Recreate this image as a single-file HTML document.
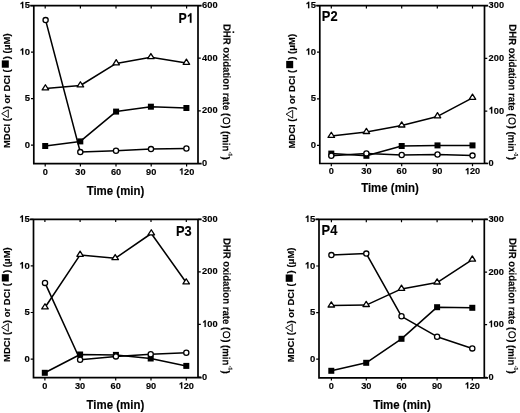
<!DOCTYPE html>
<html><head><meta charset="utf-8"><style>
html,body{margin:0;padding:0;background:#fff;}
body{width:520px;height:413px;overflow:hidden;position:relative;}
svg{position:absolute;left:0;top:0;filter:grayscale(1) blur(0.35px);}
.ax{fill:none;stroke:#000;stroke-width:1.7;stroke-linecap:square;}
.tk{fill:none;stroke:#000;stroke-width:1.2;}
.dl{fill:none;stroke:#000;stroke-width:1.55;stroke-linejoin:round;}
.mk{fill:#fff;stroke:#000;stroke-width:1.3;}
.tr{stroke-linejoin:round;}
.g1{stroke:#000;stroke-width:0.15;vector-effect:non-scaling-stroke;}
.lt{fill:none;stroke:#000;stroke-width:0.9;}
.lc{fill:none;stroke:#000;stroke-width:1.0;}
text{font-family:"Liberation Sans",sans-serif;fill:#000;stroke:#000;stroke-width:0.15;}
.yl{font-size:9.5px;font-weight:bold;}
.yr{font-size:9.8px;font-weight:bold;}
.xl{font-size:9.2px;font-weight:bold;}
.pl{font-size:14px;font-weight:bold;}
.pl2{font-size:14px;font-weight:bold;}
.tl{font-size:12.2px;font-weight:bold;text-anchor:middle;}
.al text{font-size:9.5px;font-weight:bold;}
.ar text{font-size:9.6px;font-weight:bold;}
.ar text.sup{font-size:4.8px;font-weight:bold;}
</style></head><body>
<svg width="520" height="413" viewBox="0 0 520 413">
<path d="M31 5.7H200.8M33.8 5.7V163.7H198V5.7M198 163.7H200.8" class="ax"/>
<path d="M45.2 163.7v2.8M45.2 5.7v2.8M80.4 163.7v2.8M80.4 5.7v2.8M116 163.7v2.8M116 5.7v2.8M151.2 163.7v2.8M151.2 5.7v2.8M186.6 163.7v2.8M186.6 5.7v2.8M33.8 5.7h-2.8M33.8 52.2h-2.8M33.8 98.7h-2.8M33.8 145.2h-2.8M198 5.7h2.8M198 58.2h2.8M198 110.8h2.8M198 163.5h2.8" class="tk"/>
<path d="M45.4 88.5 L80.4 85.5 L116.2 63.4 L150.9 57.3 L186.4 62.9" class="dl"/>
<path d="M45.2 146 L80.3 141.4 L116.1 111.6 L150.9 106.7 L186.4 108" class="dl"/>
<path d="M45.6 20.1 L80.3 152.1 L116 150.7 L151 149.1 L186.4 148.5" class="dl"/>
<path d="M45.4 84.75L48.65 89.9H42.15Z" class="mk tr"/>
<path d="M80.4 81.75L83.65 86.9H77.15Z" class="mk tr"/>
<path d="M116.2 59.65L119.45 64.8H112.95Z" class="mk tr"/>
<path d="M150.9 53.55L154.15 58.7H147.65Z" class="mk tr"/>
<path d="M186.4 59.15L189.65 64.3H183.15Z" class="mk tr"/>
<rect x="42.2" y="143" width="6" height="6"/>
<rect x="77.3" y="138.4" width="6" height="6"/>
<rect x="113.1" y="108.6" width="6" height="6"/>
<rect x="147.9" y="103.7" width="6" height="6"/>
<rect x="183.4" y="105" width="6" height="6"/>
<circle cx="45.6" cy="20.1" r="2.6" class="mk"/>
<circle cx="80.3" cy="152.1" r="2.6" class="mk"/>
<circle cx="116" cy="150.7" r="2.6" class="mk"/>
<circle cx="151" cy="149.1" r="2.6" class="mk"/>
<circle cx="186.4" cy="148.5" r="2.6" class="mk"/>
<text x="19.53" y="8.3" class="yl"> 5</text><path class="g1" transform="translate(19.53 8.3) scale(0.00464 -0.00464)" d="M811 0H537V1032C475 974 387 915 208 856V1100C300 1135 420 1200 500 1300C530 1345 555 1380 570 1409H811Z"/>
<text x="19.53" y="54.8" class="yl"> 0</text><path class="g1" transform="translate(19.53 54.8) scale(0.00464 -0.00464)" d="M811 0H537V1032C475 974 387 915 208 856V1100C300 1135 420 1200 500 1300C530 1345 555 1380 570 1409H811Z"/>
<text x="24.82" y="101.3" class="yl">5</text>
<text x="24.82" y="147.8" class="yl">0</text>
<text transform="translate(202.1 8.2) scale(0.95 1)" class="yr">600</text>
<text transform="translate(202.1 60.7) scale(0.95 1)" class="yr">400</text>
<text transform="translate(202.1 113.3) scale(0.95 1)" class="yr">200</text>
<text transform="translate(202.1 166) scale(0.95 1)" class="yr">0</text>
<text x="42.64" y="174.5" class="xl">0</text>
<text x="75.28" y="174.5" class="xl">30</text>
<text x="110.88" y="174.5" class="xl">60</text>
<text x="146.08" y="174.5" class="xl">90</text>
<text x="178.93" y="174.5" class="xl"> 20</text><path class="g1" transform="translate(178.93 174.5) scale(0.00449 -0.00449)" d="M811 0H537V1032C475 974 387 915 208 856V1100C300 1135 420 1200 500 1300C530 1345 555 1380 570 1409H811Z"/>
<g transform="translate(178.4 22.8) scale(0.88 1)"><text class="pl">P</text><path class="g1" transform="translate(9.34 0) scale(0.00684 -0.00684)" d="M811 0H537V1032C475 974 387 915 208 856V1100C300 1135 420 1200 500 1300C530 1345 555 1380 570 1409H811Z"/></g>
<text transform="translate(115.5 195) scale(0.94 1)" class="tl">Time (min)</text>
<g transform="translate(10.2 148.1) rotate(-90)" class="al"><text x="0" y="0">MDCI (</text><path d="M34.43 -8.5L38.33 -1.9H30.53Z" class="lt"/><text x="38.78" y="0">) or DCI (</text><rect x="80.4" y="-8.4" width="7.3" height="7"/><text x="88.8" y="0">) (μM)</text></g>
<g transform="translate(223.6 23.9) rotate(90.45) scale(1 1.07)" class="ar"><text x="0" y="0">DHR oxidation rate (</text><circle cx="8.1" cy="-9.2" r="0.95" fill="#000"/><circle cx="96.77" cy="-3.4" r="3.0" class="lc"/><text x="101.27" y="0">) (min</text><text x="127.9" y="-5.8" class="sup">-1</text><text x="132.57" y="0">)</text></g>
<path d="M317 5.6H487.3M319.8 5.6V163.5H484.5V5.6M484.5 163.5H487.3" class="ax"/>
<path d="M331.3 163.5v2.8M331.3 5.6v2.8M366.4 163.5v2.8M366.4 5.6v2.8M401.7 163.5v2.8M401.7 5.6v2.8M437.3 163.5v2.8M437.3 5.6v2.8M472.5 163.5v2.8M472.5 5.6v2.8M319.8 5.6h-2.8M319.8 52.2h-2.8M319.8 98.8h-2.8M319.8 145.4h-2.8M484.5 5.6h2.8M484.5 58.4h2.8M484.5 111.1h2.8M484.5 163.4h2.8" class="tk"/>
<path d="M331.3 136 L366.4 132.1 L401.7 125.6 L437.5 116.4 L472.5 97.9" class="dl"/>
<path d="M331.3 153.6 L366.4 155.8 L401.7 146 L437.5 145.4 L472.5 145.4" class="dl"/>
<path d="M331.3 155.8 L366.4 153.4 L401.7 155 L437.5 154.5 L472.5 155.6" class="dl"/>
<path d="M331.3 132.25L334.55 137.4H328.05Z" class="mk tr"/>
<path d="M366.4 128.35L369.65 133.5H363.15Z" class="mk tr"/>
<path d="M401.7 121.85L404.95 127H398.45Z" class="mk tr"/>
<path d="M437.5 112.65L440.75 117.8H434.25Z" class="mk tr"/>
<path d="M472.5 94.15L475.75 99.3H469.25Z" class="mk tr"/>
<rect x="328.3" y="150.6" width="6" height="6"/>
<rect x="363.4" y="152.8" width="6" height="6"/>
<rect x="398.7" y="143" width="6" height="6"/>
<rect x="434.5" y="142.4" width="6" height="6"/>
<rect x="469.5" y="142.4" width="6" height="6"/>
<circle cx="331.3" cy="155.8" r="2.6" class="mk"/>
<circle cx="366.4" cy="153.4" r="2.6" class="mk"/>
<circle cx="401.7" cy="155" r="2.6" class="mk"/>
<circle cx="437.5" cy="154.5" r="2.6" class="mk"/>
<circle cx="472.5" cy="155.6" r="2.6" class="mk"/>
<text x="305.53" y="8.2" class="yl"> 5</text><path class="g1" transform="translate(305.53 8.2) scale(0.00464 -0.00464)" d="M811 0H537V1032C475 974 387 915 208 856V1100C300 1135 420 1200 500 1300C530 1345 555 1380 570 1409H811Z"/>
<text x="305.53" y="54.8" class="yl"> 0</text><path class="g1" transform="translate(305.53 54.8) scale(0.00464 -0.00464)" d="M811 0H537V1032C475 974 387 915 208 856V1100C300 1135 420 1200 500 1300C530 1345 555 1380 570 1409H811Z"/>
<text x="310.82" y="101.4" class="yl">5</text>
<text x="310.82" y="148" class="yl">0</text>
<text transform="translate(488.6 8.1) scale(0.95 1)" class="yr">300</text>
<text transform="translate(488.6 60.9) scale(0.95 1)" class="yr">200</text>
<text transform="translate(488.6 113.6) scale(0.95 1)" class="yr"> 00</text><path class="g1" transform="translate(488.6 113.6) scale(0.00455 -0.00479)" d="M811 0H537V1032C475 974 387 915 208 856V1100C300 1135 420 1200 500 1300C530 1345 555 1380 570 1409H811Z"/>
<text transform="translate(488.6 165.9) scale(0.95 1)" class="yr">0</text>
<text x="328.74" y="174.3" class="xl">0</text>
<text x="361.28" y="174.3" class="xl">30</text>
<text x="396.58" y="174.3" class="xl">60</text>
<text x="432.18" y="174.3" class="xl">90</text>
<text x="464.83" y="174.3" class="xl"> 20</text><path class="g1" transform="translate(464.83 174.3) scale(0.00449 -0.00449)" d="M811 0H537V1032C475 974 387 915 208 856V1100C300 1135 420 1200 500 1300C530 1345 555 1380 570 1409H811Z"/>
<text transform="translate(321.8 20.9) scale(0.92 1)" class="pl2">P2</text>
<text transform="translate(390 191.5) scale(0.94 1)" class="tl">Time (min)</text>
<g transform="translate(294.6 148.6) rotate(-90)" class="al"><text x="0" y="0">MDCI (</text><path d="M34.43 -8.5L38.33 -1.9H30.53Z" class="lt"/><text x="38.78" y="0">) or DCI (</text><rect x="80.4" y="-8.4" width="7.3" height="7"/><text x="88.8" y="0">) (μM)</text></g>
<g transform="translate(509.2 24.3) rotate(90.45) scale(1 1.07)" class="ar"><text x="0" y="0">DHR oxidation rate (</text><circle cx="96.77" cy="-3.4" r="3.0" class="lc"/><text x="101.27" y="0">) (min</text><text x="127.9" y="-5.8" class="sup">-1</text><text x="132.57" y="0">)</text></g>
<path d="M30.7 219.3H200.8M33.5 219.3V377.7H198V219.3M198 377.7H200.8" class="ax"/>
<path d="M44.9 377.7v2.8M44.9 219.3v2.8M80.1 377.7v2.8M80.1 219.3v2.8M115.7 377.7v2.8M115.7 219.3v2.8M151 377.7v2.8M151 219.3v2.8M186.3 377.7v2.8M186.3 219.3v2.8M33.5 219.3h-2.8M33.5 265.9h-2.8M33.5 312.5h-2.8M33.5 359.1h-2.8M198 219.3h2.8M198 271.9h2.8M198 324.4h2.8M198 377h2.8" class="tk"/>
<path d="M45 307.5 L80.1 254.9 L115.2 258.3 L151.3 233.5 L186.2 282.5" class="dl"/>
<path d="M44.8 372.8 L80.1 354.5 L115.9 354.9 L150.7 358.5 L186.3 365.9" class="dl"/>
<path d="M45 282.9 L80.1 359.7 L115.9 356.4 L150.7 354.2 L186.3 352.8" class="dl"/>
<path d="M45 303.75L48.25 308.9H41.75Z" class="mk tr"/>
<path d="M80.1 251.15L83.35 256.3H76.85Z" class="mk tr"/>
<path d="M115.2 254.55L118.45 259.7H111.95Z" class="mk tr"/>
<path d="M151.3 229.75L154.55 234.9H148.05Z" class="mk tr"/>
<path d="M186.2 278.75L189.45 283.9H182.95Z" class="mk tr"/>
<rect x="41.8" y="369.8" width="6" height="6"/>
<rect x="77.1" y="351.5" width="6" height="6"/>
<rect x="112.9" y="351.9" width="6" height="6"/>
<rect x="147.7" y="355.5" width="6" height="6"/>
<rect x="183.3" y="362.9" width="6" height="6"/>
<circle cx="45" cy="282.9" r="2.6" class="mk"/>
<circle cx="80.1" cy="359.7" r="2.6" class="mk"/>
<circle cx="115.9" cy="356.4" r="2.6" class="mk"/>
<circle cx="150.7" cy="354.2" r="2.6" class="mk"/>
<circle cx="186.3" cy="352.8" r="2.6" class="mk"/>
<text x="19.23" y="221.9" class="yl"> 5</text><path class="g1" transform="translate(19.23 221.9) scale(0.00464 -0.00464)" d="M811 0H537V1032C475 974 387 915 208 856V1100C300 1135 420 1200 500 1300C530 1345 555 1380 570 1409H811Z"/>
<text x="19.23" y="268.5" class="yl"> 0</text><path class="g1" transform="translate(19.23 268.5) scale(0.00464 -0.00464)" d="M811 0H537V1032C475 974 387 915 208 856V1100C300 1135 420 1200 500 1300C530 1345 555 1380 570 1409H811Z"/>
<text x="24.52" y="315.1" class="yl">5</text>
<text x="24.52" y="361.7" class="yl">0</text>
<text transform="translate(202.1 221.8) scale(0.95 1)" class="yr">300</text>
<text transform="translate(202.1 274.4) scale(0.95 1)" class="yr">200</text>
<text transform="translate(202.1 326.9) scale(0.95 1)" class="yr"> 00</text><path class="g1" transform="translate(202.1 326.9) scale(0.00455 -0.00479)" d="M811 0H537V1032C475 974 387 915 208 856V1100C300 1135 420 1200 500 1300C530 1345 555 1380 570 1409H811Z"/>
<text transform="translate(202.1 379.5) scale(0.95 1)" class="yr">0</text>
<text x="42.34" y="388.5" class="xl">0</text>
<text x="74.98" y="388.5" class="xl">30</text>
<text x="110.58" y="388.5" class="xl">60</text>
<text x="145.88" y="388.5" class="xl">90</text>
<text x="178.63" y="388.5" class="xl"> 20</text><path class="g1" transform="translate(178.63 388.5) scale(0.00449 -0.00449)" d="M811 0H537V1032C475 974 387 915 208 856V1100C300 1135 420 1200 500 1300C530 1345 555 1380 570 1409H811Z"/>
<text transform="translate(176 236.4) scale(0.92 1)" class="pl2">P3</text>
<text transform="translate(115.4 409) scale(0.94 1)" class="tl">Time (min)</text>
<g transform="translate(10.2 361.9) rotate(-90)" class="al"><text x="0" y="0">MDCI (</text><path d="M34.43 -8.5L38.33 -1.9H30.53Z" class="lt"/><text x="38.78" y="0">) or DCI (</text><rect x="80.4" y="-8.4" width="7.3" height="7"/><text x="88.8" y="0">) (μM)</text></g>
<g transform="translate(223.6 237.9) rotate(90.45) scale(1 1.07)" class="ar"><text x="0" y="0">DHR oxidation rate (</text><circle cx="96.77" cy="-3.4" r="3.0" class="lc"/><text x="101.27" y="0">) (min</text><text x="127.9" y="-5.8" class="sup">-1</text><text x="132.57" y="0">)</text></g>
<path d="M316.2 219.4H487.1M319 219.4V377.8H484.3V219.4M484.3 377.8H487.1" class="ax"/>
<path d="M331.4 377.8v2.8M331.4 219.4v2.8M366.3 377.8v2.8M366.3 219.4v2.8M401.5 377.8v2.8M401.5 219.4v2.8M437.1 377.8v2.8M437.1 219.4v2.8M472.3 377.8v2.8M472.3 219.4v2.8M319 219.4h-2.8M319 266h-2.8M319 312.6h-2.8M319 359.2h-2.8M484.3 219.4h2.8M484.3 272.1h2.8M484.3 324.7h2.8M484.3 377.4h2.8" class="tk"/>
<path d="M331.3 305.6 L366.2 305.1 L401.5 288.9 L437.1 282.6 L472.3 259.7" class="dl"/>
<path d="M331.3 370.8 L366.2 362.8 L401.5 338.8 L437.1 307.2 L472.3 307.8" class="dl"/>
<path d="M331.4 255.1 L366.3 253.6 L401.5 316.3 L437.1 336.7 L472.3 348.4" class="dl"/>
<path d="M331.3 301.85L334.55 307H328.05Z" class="mk tr"/>
<path d="M366.2 301.35L369.45 306.5H362.95Z" class="mk tr"/>
<path d="M401.5 285.15L404.75 290.3H398.25Z" class="mk tr"/>
<path d="M437.1 278.85L440.35 284H433.85Z" class="mk tr"/>
<path d="M472.3 255.95L475.55 261.1H469.05Z" class="mk tr"/>
<rect x="328.3" y="367.8" width="6" height="6"/>
<rect x="363.2" y="359.8" width="6" height="6"/>
<rect x="398.5" y="335.8" width="6" height="6"/>
<rect x="434.1" y="304.2" width="6" height="6"/>
<rect x="469.3" y="304.8" width="6" height="6"/>
<circle cx="331.4" cy="255.1" r="2.6" class="mk"/>
<circle cx="366.3" cy="253.6" r="2.6" class="mk"/>
<circle cx="401.5" cy="316.3" r="2.6" class="mk"/>
<circle cx="437.1" cy="336.7" r="2.6" class="mk"/>
<circle cx="472.3" cy="348.4" r="2.6" class="mk"/>
<text x="304.73" y="222" class="yl"> 5</text><path class="g1" transform="translate(304.73 222) scale(0.00464 -0.00464)" d="M811 0H537V1032C475 974 387 915 208 856V1100C300 1135 420 1200 500 1300C530 1345 555 1380 570 1409H811Z"/>
<text x="304.73" y="268.6" class="yl"> 0</text><path class="g1" transform="translate(304.73 268.6) scale(0.00464 -0.00464)" d="M811 0H537V1032C475 974 387 915 208 856V1100C300 1135 420 1200 500 1300C530 1345 555 1380 570 1409H811Z"/>
<text x="310.02" y="315.2" class="yl">5</text>
<text x="310.02" y="361.8" class="yl">0</text>
<text transform="translate(488.4 221.9) scale(0.95 1)" class="yr">300</text>
<text transform="translate(488.4 274.6) scale(0.95 1)" class="yr">200</text>
<text transform="translate(488.4 327.2) scale(0.95 1)" class="yr"> 00</text><path class="g1" transform="translate(488.4 327.2) scale(0.00455 -0.00479)" d="M811 0H537V1032C475 974 387 915 208 856V1100C300 1135 420 1200 500 1300C530 1345 555 1380 570 1409H811Z"/>
<text transform="translate(488.4 379.9) scale(0.95 1)" class="yr">0</text>
<text x="328.84" y="388.6" class="xl">0</text>
<text x="361.18" y="388.6" class="xl">30</text>
<text x="396.38" y="388.6" class="xl">60</text>
<text x="431.98" y="388.6" class="xl">90</text>
<text x="464.63" y="388.6" class="xl"> 20</text><path class="g1" transform="translate(464.63 388.6) scale(0.00449 -0.00449)" d="M811 0H537V1032C475 974 387 915 208 856V1100C300 1135 420 1200 500 1300C530 1345 555 1380 570 1409H811Z"/>
<text transform="translate(321.6 234.6) scale(0.92 1)" class="pl2">P4</text>
<text transform="translate(402 408.8) scale(0.94 1)" class="tl">Time (min)</text>
<g transform="translate(294.1 362.2) rotate(-90)" class="al"><text x="0" y="0">MDCI (</text><path d="M34.43 -8.5L38.33 -1.9H30.53Z" class="lt"/><text x="38.78" y="0">) or DCI (</text><rect x="80.4" y="-8.4" width="7.3" height="7"/><text x="88.8" y="0">) (μM)</text></g>
<g transform="translate(509.2 237.9) rotate(90.45) scale(1 1.07)" class="ar"><text x="0" y="0">DHR oxidation rate (</text><circle cx="96.77" cy="-3.4" r="3.0" class="lc"/><text x="101.27" y="0">) (min</text><text x="127.9" y="-5.8" class="sup">-1</text><text x="132.57" y="0">)</text></g>
</svg>
</body></html>
